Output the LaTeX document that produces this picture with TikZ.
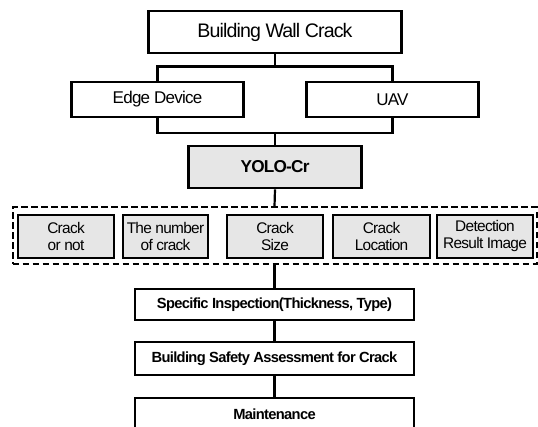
\documentclass[tikz,border=0pt]{standalone}
\usepackage{fontspec}
\setmainfont{Liberation Sans}[LetterSpace=-4.5]
\definecolor{boxgray}{HTML}{E6E6E6}
\tikzset{
  box/.style={draw=black, line width=2.8pt, rectangle, inner sep=0pt, align=center, text=black},
  graybox/.style={box, fill=boxgray},
  conn/.style={draw=black, line width=2.2pt},
  dashbox/.style={draw=black, line width=2pt, dash pattern=on 6.5pt off 3.5pt, rectangle, inner sep=0pt},
  smalltxt/.style={font=\fontsize{15.4}{17}\selectfont},
  boldtxt/.style={font=\fontsize{14.7}{17}\selectfont\bfseries}
}
\begin{document}
\begin{tikzpicture}[x=1pt, y=-1pt]
\clip (0,0) rectangle (538,427);
\fill[white] (0,0) rectangle (538,427);
% top
\node[box, minimum width=253pt, minimum height=42pt, font=\fontsize{19.6}{24}\selectfont] (bwc) at (275,32) {Building Wall Crack};
\node[box, minimum width=172pt, minimum height=35pt, font=\fontsize{17}{20}\selectfont] (edge) at (157.5,99.5) {Edge Device};
\node[box, minimum width=172pt, minimum height=35pt, font=\fontsize{17}{20}\selectfont] (uav) at (392.5,99.5) {UAV};
\node[graybox, minimum width=173pt, minimum height=42pt, font=\fontsize{17.2}{20}\selectfont\bfseries] (yolo) at (275,167) {YOLO-Cr};
% dashed group
\node[dashbox, minimum width=524pt, minimum height=57pt] (grp) at (274.5,236) {};
\node[graybox, smalltxt, minimum width=96pt, minimum height=43pt] (c1) at (66,236.5) {Crack\\or not};
\node[graybox, smalltxt, minimum width=85pt, minimum height=43pt] (c2) at (165.5,236.5) {The number\\of crack};
\node[graybox, smalltxt, minimum width=96pt, minimum height=43pt] (c3) at (275,236.5) {Crack\\Size};
\node[graybox, smalltxt, minimum width=97pt, minimum height=43pt] (c4) at (381.5,236.5) {Crack\\Location};
\node[graybox, smalltxt, minimum width=96pt, minimum height=43pt] (c5) at (485,236.5) {Detection\\Result Image};
% lower chain
\node[box, boldtxt, minimum width=279pt, minimum height=31pt] (spec) at (274.5,304.5) {Specific Inspection(Thickness, Type)};
\node[box, boldtxt, minimum width=279pt, minimum height=33pt] (bsa) at (274.5,358.5) {Building Safety Assessment for Crack};
\node[box, boldtxt, minimum width=279pt, minimum height=40pt] (mnt) at (274.5,418) {\raisebox{8pt}{Maintenance}};
% connectors
\coordinate (j1) at (275,68);
\coordinate (j2) at (275,132);
\draw[conn] (bwc.south) -- (j1);
\draw[conn] (edge.north) -- ++(0,-14) -| (uav.north);
\draw[conn] (edge.south) -- ++(0,15) -| (uav.south);
\draw[conn] (j2) -- (yolo.north);
\draw[conn] (yolo.south) -- (grp.north);
\draw[conn] (grp.south -| spec.north) -- (spec.north);
\draw[conn] (spec.south) -- (bsa.north);
\draw[conn] (bsa.south) -- (mnt.north);
\end{tikzpicture}
\end{document}
